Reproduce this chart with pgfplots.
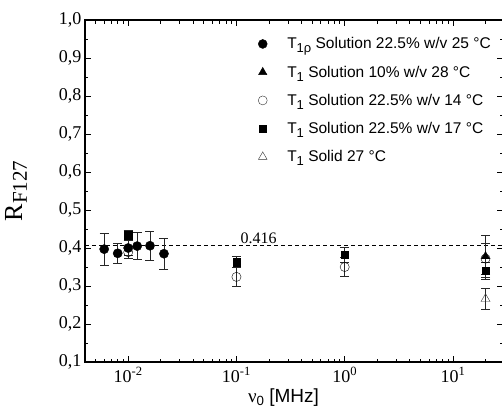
\documentclass[border=0pt]{standalone}
\usepackage{fontspec}
\setmainfont{Liberation Serif}
\setsansfont{Liberation Sans}
\usepackage{pgfplots}
\usepackage{pgfplotstable}
\pgfplotsset{compat=1.18}

% T1rho, solution 22.5% w/v, 25 C
\pgfplotstableread{
x y e
0.006 0.397 0.042
0.008 0.386 0.026
0.010 0.400 0.020
0.0121 0.405 0.036
0.0159 0.406 0.039
0.0214 0.385 0.041
}\rhosol
% T1, solution 22.5% w/v, 17 C
\pgfplotstableread{
x y e
0.01 0.434 0.012
0.1 0.363 0.015
1 0.383 0.020
20 0.340 0.022
}\solseventeen
% T1, solution 22.5% w/v, 14 C
\pgfplotstableread{
x y e
0.01 0.389 0.015
0.1 0.324 0.025
1 0.350 0.025
20 0.372 0.040
}\solfourteen
% T1, solution 10% w/v, 28 C
\pgfplotstableread{
x y e
20 0.378 0.055
}\solten
% T1, solid, 27 C
\pgfplotstableread{
x y e
20 0.266 0.027
}\solid

\newcommand{\lsub}[1]{\raisebox{-0.5ex}{\fontsize{13}{14}\selectfont #1}}

\begin{document}
\begin{tikzpicture}
\begin{axis}[
  at={(0,0)}, anchor=south west,
  scale only axis, width=418pt, height=342pt,
  xmode=log, xmin=0.00399, xmax=29,
  ymin=0.1, ymax=1.0,
  xtick={0.01,0.1,1,10},
  xticklabels={10\textsuperscript{-2},10\textsuperscript{-1},10\textsuperscript{0},10\textsuperscript{1}},
  minor xtick={0.004,0.005,0.006,0.007,0.008,0.009,0.02,0.03,0.04,0.05,0.06,0.07,0.08,0.09,
    0.2,0.3,0.4,0.5,0.6,0.7,0.8,0.9,2,3,4,5,6,7,8,9,20},
  ytick={0.1,0.2,0.3,0.4,0.5,0.6,0.7,0.8,0.9,1.0},
  yticklabels={{0,1},{0,2},{0,3},{0,4},{0,5},{0,6},{0,7},{0,8},{0,9},{1,0}},
  minor y tick num=1,
  tick align=inside,
  major tick length=6pt, minor tick length=3.5pt,
  tick style={black, line width=0.8pt},
  axis line style={line width=1.1pt},
  ticklabel style={font=\fontsize{18}{20}\selectfont},
  xticklabel style={yshift=-2pt},
  xlabel={\fontsize{19}{22}\selectfont ν\textsubscript{\sffamily 0} \sffamily[MHz]},
  xlabel style={at={(rel axis cs:0.475,0)}, anchor=base, yshift=-40pt},
  ylabel={\fontsize{26}{28}\selectfont R\raisebox{-0.4ex}{\fontsize{21}{22}\selectfont F127}},
  ylabel style={at={(rel axis cs:0,0.5)}, anchor=center, yshift=69pt},
  legend style={at={(rel axis cs:0.414,0.955)}, anchor=north west, draw=none, fill=none,
    font=\sffamily\fontsize{15.5}{18}\selectfont, row sep=11.5pt, inner sep=0pt,
    /tikz/every odd column/.append style={column sep=18pt}},
  legend cell align=left,
  error bars/y dir=both, error bars/y explicit,
  error bars/error mark options={rotate=90, black!85, line width=0.6pt, mark size=4.5pt},
  error bars/error bar style={black!85, line width=0.6pt},
]
\addplot[black, dashed, line width=0.7pt, dash pattern=on 4pt off 3pt, forget plot]
  coordinates {(0.00399,0.406) (29,0.406)};
\node[anchor=base, font=\fontsize{16}{18}\selectfont] at (axis cs:0.16,0.413) {0.416};

\addplot[only marks, mark=*, mark size=4.6pt, black, forget plot]
  table[x=x, y=y, y error=e] {\rhosol};
\addplot[only marks, mark=square*, mark size=3.7pt, black, forget plot]
  table[x=x, y=y, y error=e] {\solseventeen};
\addplot[only marks, mark=triangle*, mark size=4.8pt, black, forget plot]
  table[x=x, y=y, y error=e] {\solten};
\addplot[only marks, mark=o, mark size=4.6pt, black, mark options={fill=white}, forget plot]
  table[x=x, y=y, y error=e] {\solfourteen};
\addplot[only marks, mark=triangle, mark size=5.2pt, black!80, mark options={fill=white}, forget plot]
  table[x=x, y=y, y error=e] {\solid};

\addlegendimage{only marks, mark=*, mark size=4.5pt, black}
\addlegendentry{T\lsub{1ρ} Solution 22.5\% w/v 25 °C}
\addlegendimage{only marks, mark=triangle*, mark size=4.8pt, black}
\addlegendentry{T\lsub{1} Solution 10\% w/v 28 °C}
\addlegendimage{only marks, mark=o, mark size=4.5pt, black!80}
\addlegendentry{T\lsub{1} Solution 22.5\% w/v 14 °C}
\addlegendimage{only marks, mark=square*, mark size=3.6pt, black}
\addlegendentry{T\lsub{1} Solution 22.5\% w/v 17 °C}
\addlegendimage{only marks, mark=triangle, mark size=5pt, black!80}
\addlegendentry{T\lsub{1} Solid 27 °C}
\end{axis}
\pgfresetboundingbox
\useasboundingbox (-85pt,-47pt) rectangle (417pt,362pt);
\end{tikzpicture}
\end{document}
